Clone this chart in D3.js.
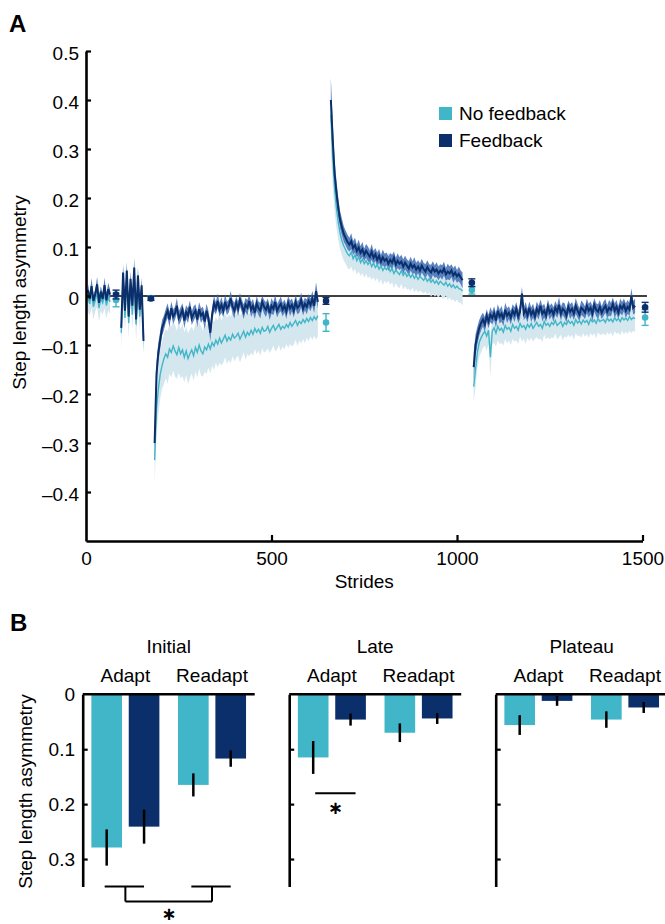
<!DOCTYPE html>
<html>
<head>
<meta charset="utf-8">
<script src="https://cdn.jsdelivr.net/npm/d3@7"></script>
<style>
  body { margin: 0; background: #fff; }
  svg { display: block; font-family: "Liberation Sans", Arial, sans-serif; }
</style>
</head>
<body>
<svg id="chart" width="665" height="924"></svg>
<script>
// ---- panel A data: step length asymmetry x1000, one value every 5 strides ----
var strideStep = 5;

var base1Start = 5;
var base1F   = [12, -6, 20, -10, 4, 24, -14, 9, -6, 22, -9, 14, 3];
var base1NF  = [-4, -16, 6, -22, -9, 7, -24, -6, -14, 4, -19, -3, -12];
var base1SeF  = [14, 10, 16, 12, 9, 15, 13, 11, 10, 16, 12, 13, 10];
var base1SeNF = [28, 24, 30, 26, 22, 30, 28, 25, 24, 29, 27, 26, 25];

var base2Start = 95;
var base2F   = [-65, 48, -30, 52, -42, 35, -20, 58, -48, 42, -28, 22, -92];
var base2NF  = [-75, 38, -45, 42, -55, 22, -38, 48, -58, 30, -42, 12, -85];
var base2SeF  = [18, 16, 15, 17, 16, 15, 14, 18, 16, 15, 16, 14, 20];
var base2SeNF = [35, 30, 28, 30, 32, 28, 30, 32, 34, 28, 30, 28, 38];

var adaptStart = 185;
var adaptF = [-300, -160, -115, -90, -65, -55, -40, -30, -48, -25,
  -42, -35, -20, -45, -38, -28, -50, -33, -40, -22,
  -45, -36, -30, -48, -27, -40, -35, -52, -30, -45,
  -75, -38, -15, -25, -10, -28, -18, -30, -12, -25,
  -20, -5, -22, -30, -14, -26, -8, -20, -32, -18,
  -24, -10, -28, -20, -34, -15, -25, -30, -12, -22,
  -28, -18, -35, -20, -26, -12, -30, -22, -16, -28,
  -20, -32, -14, -25, -18, -30, -12, -24, -20, -8,
  -26, -16, -22, -10, -18, -5, -20, 10, -12];
var adaptNF = [-335, -230, -190, -160, -142, -128, -118, -125, -108, -115,
  -102, -112, -120, -105, -118, -110, -125, -112, -128, -118,
  -110, -122, -105, -115, -100, -112, -118, -104, -110, -98,
  -108, -95, -102, -90, -98, -86, -96, -88, -80, -92,
  -84, -90, -78, -86, -82, -76, -88, -80, -72, -84,
  -74, -80, -70, -78, -66, -74, -68, -76, -64, -72,
  -70, -62, -74, -66, -60, -70, -64, -58, -68, -62,
  -66, -58, -64, -54, -62, -56, -50, -60, -52, -56,
  -48, -54, -46, -52, -44, -50, -42, -48, -40];
var adaptSeF = [30, 25, 20, 18, 16, 15, 14, 15, 16, 14,
  15, 13, 16, 14, 15, 13, 16, 14, 15, 13,
  14, 15, 13, 16, 14, 15, 13, 16, 14, 15,
  18, 14, 16, 13, 15, 14, 16, 13, 15, 14,
  13, 15, 14, 16, 13, 15, 14, 13, 15, 14,
  16, 13, 15, 14, 13, 15, 14, 16, 13, 14,
  15, 13, 14, 16, 13, 15, 14, 13, 15, 14,
  13, 15, 14, 16, 13, 14, 15, 13, 14, 15,
  14, 13, 15, 14, 13, 15, 14, 18, 14];
var adaptSeNF = [50, 48, 52, 50, 48, 52, 50, 54, 50, 52,
  50, 53, 49, 52, 50, 54, 51, 49, 52, 50,
  48, 51, 49, 52, 48, 50, 47, 51, 49, 48,
  50, 47, 49, 46, 48, 50, 46, 48, 45, 47,
  46, 48, 45, 47, 44, 46, 48, 45, 43, 46,
  45, 43, 46, 44, 42, 45, 43, 46, 42, 44,
  43, 45, 42, 44, 41, 43, 45, 42, 44, 41,
  43, 40, 42, 44, 41, 43, 40, 42, 39, 41,
  40, 42, 39, 41, 38, 40, 39, 41, 42];

var postStart = 660;
var postF = [400, 320, 250, 212, 180, 155, 140, 126, 118, 110,
  105, 112, 98, 104, 92, 99, 88, 95, 84, 92,
  86, 80, 90, 78, 85, 74, 82, 70, 79, 72,
  76, 66, 74, 68, 78, 64, 72, 66, 70, 60,
  68, 62, 56, 66, 58, 63, 54, 60, 52, 62,
  55, 50, 59, 52, 48, 57, 50, 54, 46, 52,
  48, 56, 44, 50, 46, 52, 42, 48, 40, 45,
  38, 32];
var postNF = [370, 285, 220, 180, 150, 128, 112, 102, 94, 86,
  82, 90, 76, 84, 72, 80, 68, 75, 66, 72,
  64, 70, 60, 67, 58, 64, 55, 62, 52, 58,
  54, 60, 50, 56, 46, 53, 48, 44, 52, 42,
  48, 40, 45, 38, 44, 36, 42, 34, 40, 36,
  32, 38, 30, 35, 28, 33, 26, 31, 24, 30,
  26, 22, 28, 20, 25, 18, 23, 16, 20, 15,
  14, 10];
var postSeF = [45, 35, 28, 24, 20, 18, 17, 16, 15, 15,
  14, 16, 14, 15, 13, 16, 14, 15, 13, 14,
  15, 13, 16, 14, 13, 15, 14, 13, 16, 14,
  13, 15, 14, 16, 13, 14, 15, 13, 14, 15,
  14, 13, 15, 14, 13, 16, 14, 13, 15, 14,
  13, 15, 14, 13, 16, 14, 13, 15, 14, 13,
  15, 14, 13, 16, 14, 13, 15, 14, 13, 15,
  14, 16];
var postSeNF = [75, 60, 48, 40, 35, 32, 30, 30, 28, 29,
  28, 30, 27, 29, 28, 30, 27, 28, 29, 27,
  28, 30, 27, 29, 28, 27, 29, 28, 30, 27,
  28, 29, 27, 28, 30, 27, 29, 28, 27, 29,
  28, 27, 30, 28, 27, 29, 28, 27, 29, 28,
  27, 29, 28, 27, 30, 28, 27, 29, 28, 27,
  29, 28, 27, 29, 28, 27, 30, 28, 27, 29,
  28, 30];

var readaptStart = 1045;
var readaptF = [-145, -100, -80, -65, -55, -48, -58, -40, -52, -38,
  -45, -35, -50, -30, -42, -36, -48, -28, -40, -34,
  -44, -30, -38, -26, -42, -32, 5, -36, -28, -40,
  -24, -38, -30, -42, -26, -34, -20, -36, -30, -40,
  -22, -34, -28, -38, -24, -32, -18, -36, -26, -30,
  -40, -22, -32, -26, -36, -20, -30, -38, -24, -28,
  -34, -20, -30, -24, -36, -18, -28, -32, -22, -34,
  -26, -20, -32, -24, -28, -16, -30, -22, -34, -20,
  -26, -18, -30, -22, -28, 0, -24, -20];
var readaptNF = [-185, -150, -115, -95, -85, -78, -72, -82, -70, -125,
  -72, -65, -76, -62, -70, -66, -74, -60, -68, -64,
  -72, -58, -66, -62, -70, -56, -64, -60, -68, -58,
  -64, -56, -66, -60, -54, -62, -58, -66, -52, -60,
  -56, -62, -54, -58, -50, -60, -56, -52, -62, -54,
  -58, -50, -56, -52, -60, -48, -55, -51, -57, -49,
  -54, -50, -58, -47, -53, -49, -56, -46, -52, -50,
  -48, -54, -45, -51, -47, -53, -44, -50, -46, -52,
  -44, -49, -45, -50, -42, -48, -44, -46];
var readaptSeF = [30, 22, 18, 16, 15, 14, 15, 13, 14, 15,
  13, 14, 15, 13, 14, 16, 13, 14, 15, 13,
  14, 13, 15, 14, 13, 15, 14, 13, 16, 14,
  13, 15, 14, 13, 15, 14, 13, 16, 14, 13,
  15, 14, 13, 15, 14, 13, 16, 14, 13, 15,
  14, 13, 15, 14, 13, 16, 14, 13, 15, 14,
  13, 15, 14, 13, 16, 14, 13, 15, 14, 13,
  15, 14, 13, 16, 14, 13, 15, 14, 13, 15,
  14, 13, 15, 14, 13, 16, 14, 15];
var readaptSeNF = [31, 35, 32, 30, 30, 28, 29, 30, 28, 40,
  28, 30, 27, 29, 28, 30, 27, 28, 29, 27,
  28, 30, 27, 29, 28, 27, 29, 28, 30, 27,
  28, 29, 27, 28, 30, 27, 29, 28, 27, 29,
  28, 27, 30, 28, 27, 29, 28, 27, 29, 28,
  27, 29, 28, 27, 30, 28, 27, 29, 28, 27,
  29, 28, 27, 29, 28, 27, 30, 28, 27, 29,
  28, 27, 29, 28, 27, 29, 28, 27, 29, 28,
  27, 29, 28, 27, 29, 28, 27, 28];

// epoch means (mean +/- SE) shown as dots
var ptStrides = [81, 175, 647, 1040, 1507];
var ptMeanF  = [0.003, -0.005, -0.010, 0.027, -0.023];
var ptSeF    = [0.009, 0.004, 0.007, 0.008, 0.010];
var ptMeanNF = [-0.008, -0.004, -0.054, 0.012, -0.044];
var ptSeNF   = [0.014, 0.004, 0.018, 0.008, 0.016];

var yTicksA = [0.5, 0.4, 0.3, 0.2, 0.1, 0, -0.1, -0.2, -0.3, -0.4];
var xTicksA = [0, 500, 1000, 1500];

// ---- panel B data ----
var phases = ['Initial', 'Late', 'Plateau'];
var epochs = ['Adapt', 'Readapt'];
var barNF = [[0.279, 0.165], [0.115, 0.070], [0.056, 0.046]];
var barF  = [[0.241, 0.117], [0.046, 0.044], [0.012, 0.024]];
var seNF  = [[0.033, 0.021], [0.030, 0.017], [0.018, 0.015]];
var seF   = [[0.031, 0.015], [0.011, 0.010], [0.009, 0.010]];
var yTicksB = [0, 0.1, 0.2, 0.3];

var cyan = '#41b6c8', navy = '#0b2f6b';
var cyanBand = '#d5e7ee', navyBand = '#3f6db5';
var fontSize = 19;

var svg = d3.select('#chart');

// ================= panel A =================
var x = d3.scaleLinear().domain([0, 1500]).range([86, 642.5]);
var y = d3.scaleLinear().domain([-0.5, 0.5]).range([541, 51]);

svg.append('text').attr('x', 9).attr('y', 32)
  .attr('font-size', 24).attr('font-weight', 'bold').text('A');

// zero line sits under the traces
svg.append('line')
  .attr('x1', x(0)).attr('x2', x(1512))
  .attr('y1', y(0)).attr('y2', y(0))
  .attr('stroke', '#000').attr('stroke-width', 1.3);

var segments = [
  {start: base1Start, f: base1F, nf: base1NF, seF: base1SeF, seNF: base1SeNF},
  {start: base2Start, f: base2F, nf: base2NF, seF: base2SeF, seNF: base2SeNF},
  {start: adaptStart, f: adaptF, nf: adaptNF, seF: adaptSeF, seNF: adaptSeNF},
  {start: postStart, f: postF, nf: postNF, seF: postSeF, seNF: postSeNF},
  {start: readaptStart, f: readaptF, nf: readaptNF, seF: readaptSeF, seNF: readaptSeNF}
];

var toPoints = function(start, vals, ses) {
  return vals.map(function(v, i) {
    return {s: start + i * strideStep, m: v / 1000, se: ses[i] / 1000};
  });
};

var band = d3.area()
  .x(function(d) { return x(d.s); })
  .y0(function(d) { return y(d.m - d.se); })
  .y1(function(d) { return y(d.m + d.se); });
var trace = d3.line()
  .x(function(d) { return x(d.s); })
  .y(function(d) { return y(d.m); });

var traces = svg.append('g');
// draw order: pale NF band, F band, NF line, F line
segments.forEach(function(seg) {
  traces.append('path').datum(toPoints(seg.start, seg.nf, seg.seNF))
    .attr('d', band).attr('fill', cyanBand);
});
segments.forEach(function(seg) {
  traces.append('path').datum(toPoints(seg.start, seg.f, seg.seF))
    .attr('d', band).attr('fill', navyBand).attr('opacity', 0.85);
});
segments.forEach(function(seg) {
  traces.append('path').datum(toPoints(seg.start, seg.nf, seg.seNF))
    .attr('d', trace).attr('fill', 'none').attr('stroke', cyan).attr('stroke-width', 1.4);
});
segments.forEach(function(seg) {
  traces.append('path').datum(toPoints(seg.start, seg.f, seg.seF))
    .attr('d', trace).attr('fill', 'none').attr('stroke', navy).attr('stroke-width', 2);
});

// mean +/- SE markers
var drawPoint = function(s, m, se, color) {
  var g = svg.append('g').attr('stroke', color).attr('stroke-width', 1.4);
  var cx = x(s);
  g.append('line').attr('x1', cx).attr('x2', cx).attr('y1', y(m - se)).attr('y2', y(m + se));
  [m - se, m + se].forEach(function(v) {
    g.append('line').attr('x1', cx - 3.5).attr('x2', cx + 3.5).attr('y1', y(v)).attr('y2', y(v));
  });
  g.append('circle').attr('cx', cx).attr('cy', y(m)).attr('r', 3.3)
    .attr('fill', color).attr('stroke', 'none');
};
ptStrides.forEach(function(s, i) {
  drawPoint(s, ptMeanNF[i], ptSeNF[i], cyan);
  drawPoint(s, ptMeanF[i], ptSeF[i], navy);
});

var fmtA = function(d) {
  if (d === 0) return '0';
  return (d < 0 ? '\u2013' : '') + Math.abs(d).toFixed(1);
};

var yAxisA = svg.append('g').attr('transform', 'translate(' + x(0) + ',0)')
  .call(d3.axisLeft(y).tickValues(yTicksA).tickFormat(fmtA)
    .tickSize(-5).tickSizeOuter(0).tickPadding(7));
var xAxisA = svg.append('g').attr('transform', 'translate(0,' + y(-0.5) + ')')
  .call(d3.axisBottom(x).tickValues(xTicksA).tickFormat(d3.format('d'))
    .tickSize(-6).tickSizeOuter(0).tickPadding(11));

[yAxisA, xAxisA].forEach(function(ax) {
  ax.select('.domain').attr('stroke-width', 2.6);
  ax.selectAll('.tick line').attr('stroke-width', 2.2);
  ax.selectAll('.tick text').attr('font-size', fontSize).attr('font-family', null).attr('fill', '#000');
});
xAxisA.selectAll('.tick').filter(function(d) { return d === 0; }).select('line').remove();
yAxisA.selectAll('.tick text').attr('dy', '0.45em');

svg.append('text')
  .attr('transform', 'translate(26,' + 292.5 + ') rotate(-90)')
  .attr('text-anchor', 'middle').attr('font-size', fontSize)
  .text('Step length asymmetry');
svg.append('text')
  .attr('x', (x(0) + x(1500)) / 2).attr('y', 588)
  .attr('text-anchor', 'middle').attr('font-size', fontSize)
  .text('Strides');

// legend
var legend = svg.append('g');
[['No feedback', cyan], ['Feedback', navy]].forEach(function(item, i) {
  legend.append('rect').attr('x', 439).attr('y', 107 + i * 27)
    .attr('width', 13).attr('height', 13).attr('fill', item[1]);
  legend.append('text').attr('x', 459).attr('y', 120 + i * 27)
    .attr('font-size', fontSize).text(item[0]);
});

// ================= panel B =================
svg.append('text').attr('x', 10).attr('y', 631)
  .attr('font-size', 24).attr('font-weight', 'bold').text('B');

var yB = d3.scaleLinear().domain([0, 0.35]).range([694.3, 886.5]);
var panelX = d3.scaleBand().domain(phases).range([82.7, 82.7 + 3 * 206.5]);
var panelW = 172;
var epochX = d3.scaleBand().domain(epochs).range([0, panelW]).paddingInner(0.215).paddingOuter(0.1);
var condX = d3.scaleBand().domain(['NF', 'F']).range([0, epochX.bandwidth()]).paddingInner(0.18);

svg.append('text')
  .attr('transform', 'translate(31.5,' + 791.5 + ') rotate(-90)')
  .attr('text-anchor', 'middle').attr('font-size', fontSize)
  .text('Step length asymmetry');

phases.forEach(function(phase, p) {
  var g = svg.append('g').attr('transform', 'translate(' + panelX(phase) + ',0)');

  g.append('text').attr('x', epochX('Adapt') + epochX.bandwidth() + (epochX.step() - epochX.bandwidth()) / 2)
    .attr('y', 653).attr('text-anchor', 'middle').attr('font-size', fontSize).text(phase);

  epochs.forEach(function(ep, e) {
    var gx = epochX(ep);
    g.append('text').attr('x', gx + epochX.bandwidth() / 2).attr('y', 682)
      .attr('text-anchor', 'middle').attr('font-size', fontSize).text(ep);
    [['NF', barNF, seNF, cyan], ['F', barF, seF, navy]].forEach(function(c) {
      var v = c[1][p][e], se = c[2][p][e];
      var bx = gx + condX(c[0]);
      g.append('rect').attr('x', bx).attr('y', yB(0))
        .attr('width', condX.bandwidth()).attr('height', yB(v) - yB(0))
        .attr('fill', c[3]);
      g.append('line')
        .attr('x1', bx + condX.bandwidth() / 2).attr('x2', bx + condX.bandwidth() / 2)
        .attr('y1', yB(v - se)).attr('y2', yB(v + se))
        .attr('stroke', '#000').attr('stroke-width', 2.5);
    });
  });

  var ax = g.append('g').call(d3.axisLeft(yB).tickValues(yTicksB)
    .tickFormat(p === 0 ? d3.format('') : function() { return ''; })
    .tickSize(-5).tickSizeOuter(0).tickPadding(7.7));
  ax.select('.domain').attr('stroke-width', 2.6);
  ax.selectAll('.tick line').attr('stroke-width', 2.2);
  ax.selectAll('.tick').filter(function(d) { return d === 0; }).select('line').remove();
  ax.selectAll('.tick text').attr('font-size', fontSize).attr('font-family', null).attr('fill', '#000');

  g.append('line').attr('x1', 0).attr('x2', panelW)
    .attr('y1', yB(0)).attr('y2', yB(0))
    .attr('stroke', '#000').attr('stroke-width', 2.6);
});

// significance marks
var barCenter = function(phase, ep, cond) {
  return panelX(phase) + epochX(ep) + condX(cond) + condX.bandwidth() / 2;
};
var sig = svg.append('g').attr('stroke', '#000').attr('stroke-width', 2).attr('fill', 'none');
var bTop = yB(0.35), bLow = yB(0.35) + 15;
var mids = epochs.map(function(ep) {
  var a = barCenter('Initial', ep, 'NF'), b = barCenter('Initial', ep, 'F');
  sig.append('line').attr('x1', a - 2).attr('x2', b).attr('y1', bTop).attr('y2', bTop);
  var m = (a + b) / 2;
  sig.append('line').attr('x1', m).attr('x2', m).attr('y1', bTop).attr('y2', bLow);
  return m;
});
sig.append('line').attr('x1', mids[0]).attr('x2', mids[1]).attr('y1', bLow).attr('y2', bLow);

var star = function(sx, sy) {
  svg.append('text').attr('x', sx).attr('y', sy)
    .attr('text-anchor', 'middle').attr('font-family', '"DejaVu Sans", sans-serif')
    .attr('font-size', 18).attr('font-weight', 'bold').text('\u2217');
};
star((mids[0] + mids[1]) / 2, 919.5);

var l0 = barCenter('Late', 'Adapt', 'NF'), l1 = barCenter('Late', 'Adapt', 'F');
sig.append('line').attr('x1', l0 + 2).attr('x2', l1 + 5)
  .attr('y1', yB(0.18)).attr('y2', yB(0.18));
star((l0 + l1) / 2 + 3.5, yB(0.18) + 21);
</script>
</body>
</html>
